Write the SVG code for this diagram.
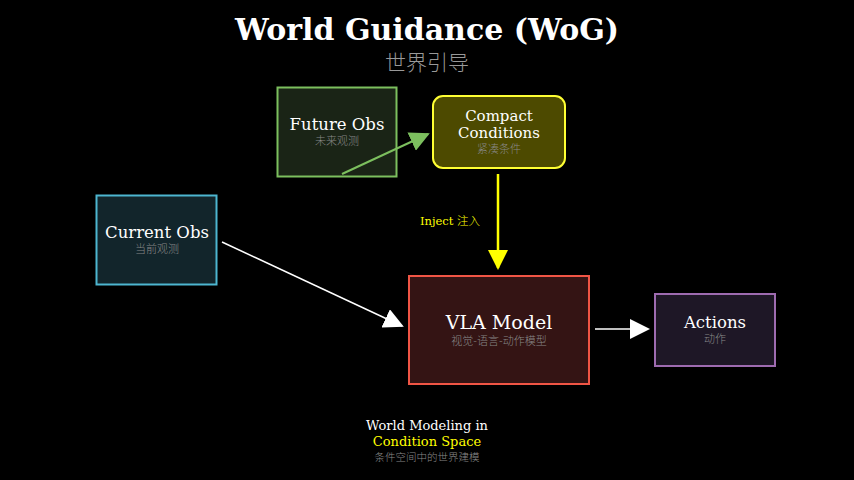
<svg xmlns="http://www.w3.org/2000/svg" width="854" height="480" viewBox="0 0 854 480">
<style>
.t{font-family:"DejaVu Serif",serif;fill:#fff}
.s{font-family:"Noto Sans CJK SC",sans-serif;fill:#888;font-weight:300}
</style>
<defs>
<marker id="mw2" viewBox="0 0 10 10" refX="9" refY="5" markerWidth="20" markerHeight="20" markerUnits="userSpaceOnUse" orient="auto"><path d="M0,0L10,5L0,10z" fill="#fff"/></marker>
<marker id="mg" viewBox="0 0 10 10" refX="9" refY="5" markerWidth="20" markerHeight="20" markerUnits="userSpaceOnUse" orient="auto"><path d="M0,0L10,5L0,10z" fill="#7cbf5e"/></marker>
<marker id="my" viewBox="0 0 10 10" refX="9" refY="5" markerWidth="20" markerHeight="20" markerUnits="userSpaceOnUse" orient="auto"><path d="M0,0L10,5L0,10z" fill="#ffff00"/></marker>
</defs>
<rect width="854" height="480" fill="#000"/>
<text x="427" y="40" text-anchor="middle" class="t" font-size="30" font-weight="bold">World Guidance (WoG)</text>
<text x="427" y="70" text-anchor="middle" class="s" font-size="21" style="fill:#999">世界引导</text>
<g id="current"><rect x="96.5" y="195.5" width="120" height="89" fill="#12252b" stroke="#4db6d0" stroke-width="2"/>
<text x="157" y="238" text-anchor="middle" class="t" font-size="16.5">Current Obs</text>
<text x="157" y="253" text-anchor="middle" class="s" font-size="11">当前观测</text></g>
<g id="future"><rect x="277.5" y="87.5" width="119" height="89" fill="#1a2416" stroke="#7cbf5e" stroke-width="2"/>
<text x="337" y="130" text-anchor="middle" class="t" font-size="16.5">Future Obs</text>
<text x="337" y="145" text-anchor="middle" class="s" font-size="11">未来观测</text></g>
<g id="compact"><rect x="433" y="96" width="132" height="72" rx="10" fill="#4d4a00" stroke="#ffff33" stroke-width="2"/>
<text x="499" y="121" text-anchor="middle" class="t" font-size="15">Compact</text>
<text x="499" y="138" text-anchor="middle" class="t" font-size="15">Conditions</text>
<text x="499" y="153" text-anchor="middle" class="s" font-size="11">紧凑条件</text></g>
<g id="vla"><rect x="409" y="276" width="180" height="108" fill="#341414" stroke="#f05545" stroke-width="2"/>
<text x="499" y="329" text-anchor="middle" class="t" font-size="19">VLA Model</text>
<text x="499" y="345" text-anchor="middle" class="s" font-size="11">视觉-语言-动作模型</text></g>
<g id="actions"><rect x="655" y="294" width="120" height="72" fill="#1e1726" stroke="#9e6bb0" stroke-width="2"/>
<text x="715" y="328" text-anchor="middle" class="t" font-size="16.5">Actions</text>
<text x="715" y="343" text-anchor="middle" class="s" font-size="11">动作</text></g>
<g id="connectors" fill="none">
<line x1="222" y1="242" x2="402" y2="326" stroke="#fff" stroke-width="1.5" marker-end="url(#mw2)"/>
<line x1="342" y1="174" x2="428" y2="134" stroke="#7cbf5e" stroke-width="2" marker-end="url(#mg)"/>
<line x1="498" y1="174" x2="498" y2="268" stroke="#ffff00" stroke-width="2.5" marker-end="url(#my)"/>
<line x1="595" y1="329" x2="648" y2="329" stroke="#fff" stroke-width="1.5" marker-end="url(#mw2)"/>
</g>
<text x="420" y="225" class="t" font-size="11.5" style="fill:#ffff00">Inject <tspan font-family="Noto Sans CJK SC,sans-serif" font-weight="300">注入</tspan></text>
<text x="427" y="430" text-anchor="middle" class="t" font-size="13">World Modeling in</text>
<text x="427" y="446" text-anchor="middle" class="t" font-size="13" style="fill:#ffff00">Condition Space</text>
<text x="427" y="461" text-anchor="middle" class="s" font-size="10.5">条件空间中的世界建模</text>
</svg>
